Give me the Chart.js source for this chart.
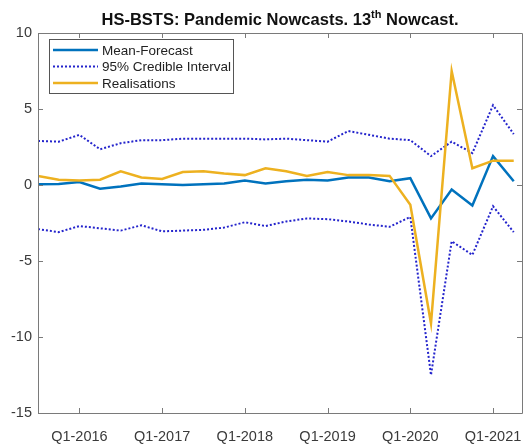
<!DOCTYPE html>
<html>
<head>
<meta charset="utf-8">
<script src="https://cdn.jsdelivr.net/npm/chart.js@4.4.1/dist/chart.umd.min.js"></script>
<style>
    html, body { margin: 0; padding: 0; background: #fff; }
    #wrap { width: 523px; height: 445px; position: relative; }
</style>
</head>
<body>
<div id="wrap"><canvas id="chart"></canvas></div>
<script>
// Квартальные метки (Q3-2015 .. Q2-2021)
const quarters = [
    'Q3-2015', 'Q4-2015',
    'Q1-2016', 'Q2-2016', 'Q3-2016', 'Q4-2016',
    'Q1-2017', 'Q2-2017', 'Q3-2017', 'Q4-2017',
    'Q1-2018', 'Q2-2018', 'Q3-2018', 'Q4-2018',
    'Q1-2019', 'Q2-2019', 'Q3-2019', 'Q4-2019',
    'Q1-2020', 'Q2-2020', 'Q3-2020', 'Q4-2020',
    'Q1-2021', 'Q2-2021'
];

const meanForecast = [0.05, 0.07, 0.2, -0.25, -0.1, 0.1, 0.05, 0.0, 0.05, 0.1, 0.3, 0.1,
    0.25, 0.35, 0.3, 0.5, 0.5, 0.25, 0.45, -2.2, -0.3, -1.35, 1.9, 0.25];
const upperCI = [2.9, 2.85, 3.3, 2.35, 2.75, 2.95, 2.95, 3.05, 3.05, 3.05, 3.05, 3.0,
    3.05, 2.95, 2.85, 3.55, 3.3, 3.05, 2.95, 1.9, 2.85, 2.1, 5.25, 3.35];
const lowerCI = [-2.9, -3.1, -2.7, -2.85, -3.0, -2.65, -3.05, -3.0, -2.95, -2.8, -2.45, -2.7,
    -2.4, -2.2, -2.25, -2.4, -2.6, -2.75, -2.1, -12.5, -3.7, -4.6, -1.4, -3.1];
const realisations = [0.6, 0.35, 0.3, 0.35, 0.9, 0.5, 0.4, 0.85, 0.9, 0.75, 0.65, 1.1,
    0.9, 0.6, 0.85, 0.65, 0.65, 0.6, -1.3, -9.1, 7.5, 1.1, 1.6, 1.6];

const yTicks = [-15, -10, -5, 0, 5, 10];
const xTickIndex = quarters.map((q, i) => q.startsWith('Q1') ? i : -1).filter(i => i >= 0);

const COLORS = {
    mean: '#0072BD',
    ci: '#2424cc',
    real: '#EDB120',
    axis: '#7a7a7a',
    text: '#3a3a3a',
};
const FONT = '"Liberation Sans", Arial, sans-serif';

const toPoints = (arr) => arr.map((v, i) => ({ x: i, y: v }));

const legendItems = [
    { label: 'Mean-Forecast', color: COLORS.mean, dash: [], width: 2.5 },
    { label: '95% Credible Interval', color: COLORS.ci, dash: [2, 2], width: 2 },
    { label: 'Realisations', color: COLORS.real, dash: [], width: 2.5 },
];

// Рамка осей с внутренними засечками, заголовок и легенда в стиле MATLAB
const matlabFrame = {
    id: 'matlabFrame',
    afterDatasetsDraw(chart) {
        const { ctx, chartArea: a, scales } = chart;
        const tick = 5;
        ctx.save();
        ctx.strokeStyle = COLORS.axis;
        ctx.lineWidth = 1;
        ctx.beginPath();
        ctx.rect(a.left + 0.5, a.top + 0.5, a.right - a.left, a.bottom - a.top);
        xTickIndex.forEach(i => {
            const x = Math.round(scales.x.getPixelForValue(i)) + 0.5;
            ctx.moveTo(x, a.bottom); ctx.lineTo(x, a.bottom - tick);
            ctx.moveTo(x, a.top); ctx.lineTo(x, a.top + tick);
        });
        yTicks.forEach(v => {
            const y = Math.round(scales.y.getPixelForValue(v)) + 0.5;
            ctx.moveTo(a.left, y); ctx.lineTo(a.left + tick, y);
            ctx.moveTo(a.right, y); ctx.lineTo(a.right - tick, y);
        });
        ctx.stroke();

        // Легенда
        const lx = 49, ly = 39, lw = 184, lh = 54;
        ctx.fillStyle = '#fff';
        ctx.fillRect(lx, ly, lw, lh);
        ctx.strokeStyle = '#555';
        ctx.strokeRect(lx + 0.5, ly + 0.5, lw, lh);
        ctx.font = '13.5px ' + FONT;
        ctx.textBaseline = 'middle';
        legendItems.forEach((it, k) => {
            const y = ly + 11 + k * 16.5;
            ctx.beginPath();
            ctx.strokeStyle = it.color;
            ctx.lineWidth = it.width;
            ctx.setLineDash(it.dash);
            ctx.moveTo(lx + 4, y);
            ctx.lineTo(lx + 49, y);
            ctx.stroke();
            ctx.setLineDash([]);
            ctx.fillStyle = '#222';
            ctx.fillText(it.label, lx + 53, y + 1);
        });

        // Заголовок с верхним индексом
        const cx = (a.left + a.right) / 2;
        const parts = [
            { t: 'HS-BSTS: Pandemic Nowcasts. 13', f: 'bold 16.5px ' + FONT, dy: 0 },
            { t: 'th', f: 'bold 11px ' + FONT, dy: -7 },
            { t: ' Nowcast.', f: 'bold 16.5px ' + FONT, dy: 0 },
        ];
        let total = 0;
        parts.forEach(p => { ctx.font = p.f; p.w = ctx.measureText(p.t).width; total += p.w; });
        let x = cx - total / 2;
        ctx.fillStyle = '#111';
        ctx.textBaseline = 'alphabetic';
        parts.forEach(p => {
            ctx.font = p.f;
            ctx.fillText(p.t, x, 25 + p.dy);
            x += p.w;
        });
        ctx.restore();
    }
};

new Chart(document.getElementById('chart'), {
    type: 'line',
    data: {
        datasets: [
            { label: 'Realisations', data: toPoints(realisations), borderColor: COLORS.real, borderWidth: 2.5 },
            { label: 'Mean-Forecast', data: toPoints(meanForecast), borderColor: COLORS.mean, borderWidth: 2.5 },
            { label: '95% Credible Interval', data: toPoints(upperCI), borderColor: COLORS.ci, borderWidth: 2, borderDash: [2, 2] },
            { label: '95% Credible Interval (lower)', data: toPoints(lowerCI), borderColor: COLORS.ci, borderWidth: 2, borderDash: [2, 2] },
        ],
    },
    options: {
        responsive: true,
        maintainAspectRatio: false,
        animation: false,
        layout: { padding: { top: 33, right: 1, left: 0, bottom: 0 } },
        elements: {
            point: { radius: 0 },
            line: { tension: 0, fill: false, borderCapStyle: 'butt' },
        },
        plugins: {
            legend: { display: false },
            tooltip: { enabled: false },
            title: { display: false },
        },
        scales: {
            x: {
                type: 'linear',
                min: 0,
                max: 23.4,
                grid: { display: false, drawTicks: false },
                border: { display: false },
                afterBuildTicks: (scale) => {
                    scale.ticks = xTickIndex.map(i => ({ value: i }));
                },
                afterFit: (scale) => {
                    scale.height = 32;
                    scale.paddingLeft = 0;
                    scale.paddingRight = 0;
                },
                ticks: {
                    autoSkip: false,
                    maxRotation: 0,
                    padding: 15,
                    color: COLORS.text,
                    font: { family: FONT, size: 14.5 },
                    callback: (v) => quarters[v] || '',
                },
            },
            y: {
                min: -15,
                max: 10,
                grid: { display: false, drawTicks: false },
                border: { display: false },
                afterBuildTicks: (scale) => {
                    scale.ticks = yTicks.map(v => ({ value: v }));
                },
                afterFit: (scale) => {
                    scale.width = 38;
                    scale.paddingTop = 0;
                    scale.paddingBottom = 0;
                },
                ticks: {
                    padding: 6,
                    color: COLORS.text,
                    font: { family: FONT, size: 14.5 },
                },
            },
        },
    },
    plugins: [matlabFrame],
});
</script>
</body>
</html>
